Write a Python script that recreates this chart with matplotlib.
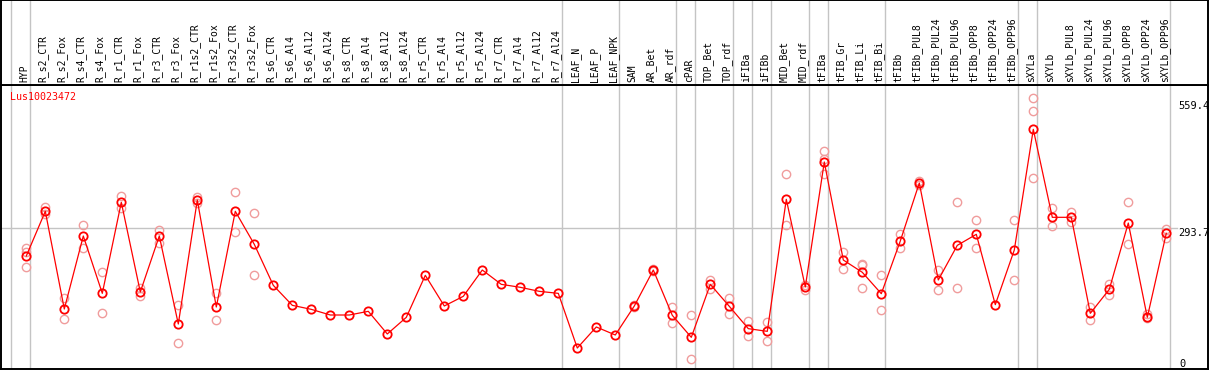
import matplotlib
matplotlib.use("Agg")
import matplotlib.pyplot as plt

# column labels, left to right
labels = ["HYP", "R_s2_CTR", "R_s2_Fox", "R_s4_CTR", "R_s4_Fox", "R_r1_CTR", "R_r1_Fox",
          "R_r3_CTR", "R_r3_Fox", "R_r1s2_CTR", "R_r1s2_Fox", "R_r3s2_CTR", "R_r3s2_Fox",
          "R_s6_CTR", "R_s6_Al4", "R_s6_Al12", "R_s6_Al24", "R_s8_CTR", "R_s8_Al4",
          "R_s8_Al12", "R_s8_Al24", "R_r5_CTR", "R_r5_Al4", "R_r5_Al12", "R_r5_Al24",
          "R_r7_CTR", "R_r7_Al4", "R_r7_Al12", "R_r7_Al24", "LEAF_N", "LEAF_P", "LEAF_NPK",
          "SAM", "AR_Bet", "AR_rdf", "cPAR", "TOP_Bet", "TOP_rdf", "iFIBa", "iFIBb",
          "MID_Bet", "MID_rdf", "tFIBa", "tFIB_Gr", "tFIB_Li", "tFIB_Bi", "tFIBb",
          "tFIBb_PUL8", "tFIBb_PUL24", "tFIBb_PUL96", "tFIBb_OPP8", "tFIBb_OPP24",
          "tFIBb_OPP96", "sXYLa", "sXYLb", "sXYLb_PUL8", "sXYLb_PUL24", "sXYLb_PUL96",
          "sXYLb_OPP8", "sXYLb_OPP24", "sXYLb_OPP96"]

# mean expression per column
means = [235.9, 329.1, 125.2, 277.6, 157.9, 347.9, 160.7, 277.6, 93.9, 352.7,
         129.4, 329.1, 260.2, 174.6, 132.9, 124.5, 112.7, 112.7, 120.4, 73.1,
         107.8, 195.5, 131.5, 151.7, 206.6, 176.7, 170.5, 162.1, 157.9, 43.8,
         87.7, 71.0, 131.5, 206.6, 112.0, 66.1, 176.7, 130.8, 84.2, 78.6,
         354.1, 171.2, 432.1, 227.5, 201.8, 157.2, 267.2, 388.2, 185.8, 258.1,
         281.1, 134.3, 248.4, 500.2, 316.6, 316.6, 116.2, 166.3, 304.7, 107.8,
         283.2]

# individual replicates (empty where none are drawn)
reps = [[251.9, 244.9, 212.2], [338.8, 322.8], [147.5, 103.7], [300.6, 251.9],
        [201.8, 116.2], [361.1, 336.7], [168.4, 153.1], [290.1, 262.3],
        [133.6, 54.3], [359.7, 345.8], [157.9, 101.6], [368.7, 286.6],
        [324.9, 195.5], [], [], [], [], [], [], [], [], [], [], [], [], [], [], [], [],
        [], [], [], [134.3, 128.7], [208.0, 205.2], [128.7, 96.7], [112.0, 20.2],
        [185.8, 167.0], [147.5, 114.1], [100.9, 68.2], [97.4, 57.7],
        [406.3, 299.9], [175.3, 165.6], [455.0, 438.3, 406.3], [244.9, 208.7],
        [219.2, 217.1, 168.4], [195.5, 122.5], [281.8, 251.9], [393.1, 384.1],
        [206.6, 164.9], [347.9, 169.1], [311.0, 251.9], [], [311.0, 185.8],
        [564.9, 537.8, 398.0], [335.3, 298.5], [327.7, 306.1], [130.1, 101.6],
        [177.4, 154.5], [347.9, 260.9], [114.1, 105.8], [292.2, 274.1]]

# index of first column in each group (last entry closes the final group)
group_starts = [0, 1, 29, 32, 35, 36, 38, 39, 40, 42, 43, 46, 53, 54, 61]

gene = "Lus10023472"
ref_value = 293.7
top_value = 559.4

W, H = 1209, 370
fig = plt.figure(figsize=(W / 100, H / 100), dpi=100)

xlo, xhi = (1 - 26.3) / 19, (1208 - 26.3) / 19
ax = fig.add_axes([1 / W, 1 / H, 1207 / W, 284 / H])
hax = fig.add_axes([1 / W, 285 / H, 1207 / W, 85 / H], sharex=ax)

mono = "DejaVu Sans Mono"

for a in (ax, hax):
    a.set_xlim(xlo, xhi)
    a.set_xticks([])
    a.set_yticks([])
    for s in a.spines.values():
        s.set_linewidth(1.4)
        s.set_color("black")
    for g in group_starts:
        a.axvline(g - 15 / 19, color="#c4c4c4", lw=1.0, zorder=0)

ax.set_ylim(0, 284 / 0.4791)
hax.set_ylim(0, 85)

for i, lab in enumerate(labels):
    hax.text(i - 0.1, 2.5, lab, rotation=90, ha="center", va="bottom",
             fontsize=7, family=mono)

ax.axhline(ref_value, xmax=(1177 - 1) / 1207, color="#c4c4c4", lw=1.0, zorder=0)

xs = list(range(len(labels)))
for i, r in enumerate(reps):
    if r:
        ax.plot([i] * len(r), r, "o", ms=6, mfc="none", mec="#f09c9c", mew=1.0, zorder=2)

ax.plot(xs, means, "-", color="red", lw=0.9, zorder=3)
ax.plot(xs, means, "o", ms=6, mfc="none", mec="red", mew=1.3, zorder=4)

ax.text(9 / 1207, 0.975, gene, transform=ax.transAxes, ha="left", va="top",
        color="red", fontsize=7.2, family=mono)

lab_x = (1178 - 26.3) / 19
ax.text(lab_x, top_value, f"{top_value}", ha="left", va="top", fontsize=7.5, family=mono)
ax.text(lab_x, ref_value, f"{ref_value}", ha="left", va="top", fontsize=7.5, family=mono)
ax.text(lab_x + 0.05, 0, "0", ha="left", va="bottom", fontsize=7.5, family=mono)

fig.savefig("out.png", dpi=100)
